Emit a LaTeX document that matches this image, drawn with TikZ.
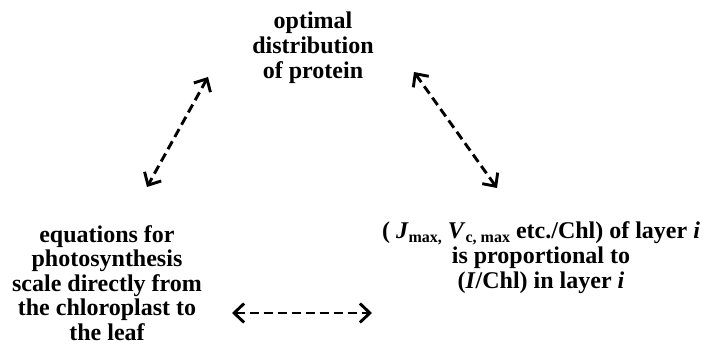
\documentclass[tikz,border=0pt]{standalone}
\usepackage{fontspec}
\setmainfont{Liberation Serif}
\usetikzlibrary{arrows.meta}
\begin{document}
\begin{tikzpicture}[x=1pt,y=1pt,
  lbl/.style={align=center, font=\fontsize{24}{25}\selectfont\bfseries, inner sep=0pt},
  dashlink/.style={line width=2.9pt, dash pattern=on 9pt off 5pt,
    {Straight Barb[length=10pt,width=19pt,line width=2.9pt]}-{Straight Barb[length=10pt,width=19pt,line width=2.9pt]}}]
\useasboundingbox (0,0) rectangle (709,347);
\node[lbl] (top) at (313,299) {optimal\\distribution\\of protein};
\node[lbl, font=\fontsize{24}{24.5}\selectfont\bfseries] (left) at (107,64) {equations for\\photosynthesis\\scale directly from\\the chloroplast to\\the leaf};
\node[lbl] (right) at (541,89) {( \textit{J}\raisebox{-0.35ex}{\fontsize{16}{16}\selectfont max,} \textit{V}\raisebox{-0.35ex}{\fontsize{16}{16}\selectfont c, max} etc./Chl) of layer \textit{i}\\is proportional to\\(\textit{I}/Chl) in layer \textit{i}};
\coordinate (l1) at (208,270);
\coordinate (l2) at (147,160);
\coordinate (r1) at (414,275);
\coordinate (r2) at (497,159);
\coordinate (h1) at (232,34);
\coordinate (h2) at (372,34);
\draw[dashlink] (l1) -- (l2);
\draw[dashlink] (r1) -- (r2);
\draw[dashlink] (h1) -- (h2);
\end{tikzpicture}
\end{document}
